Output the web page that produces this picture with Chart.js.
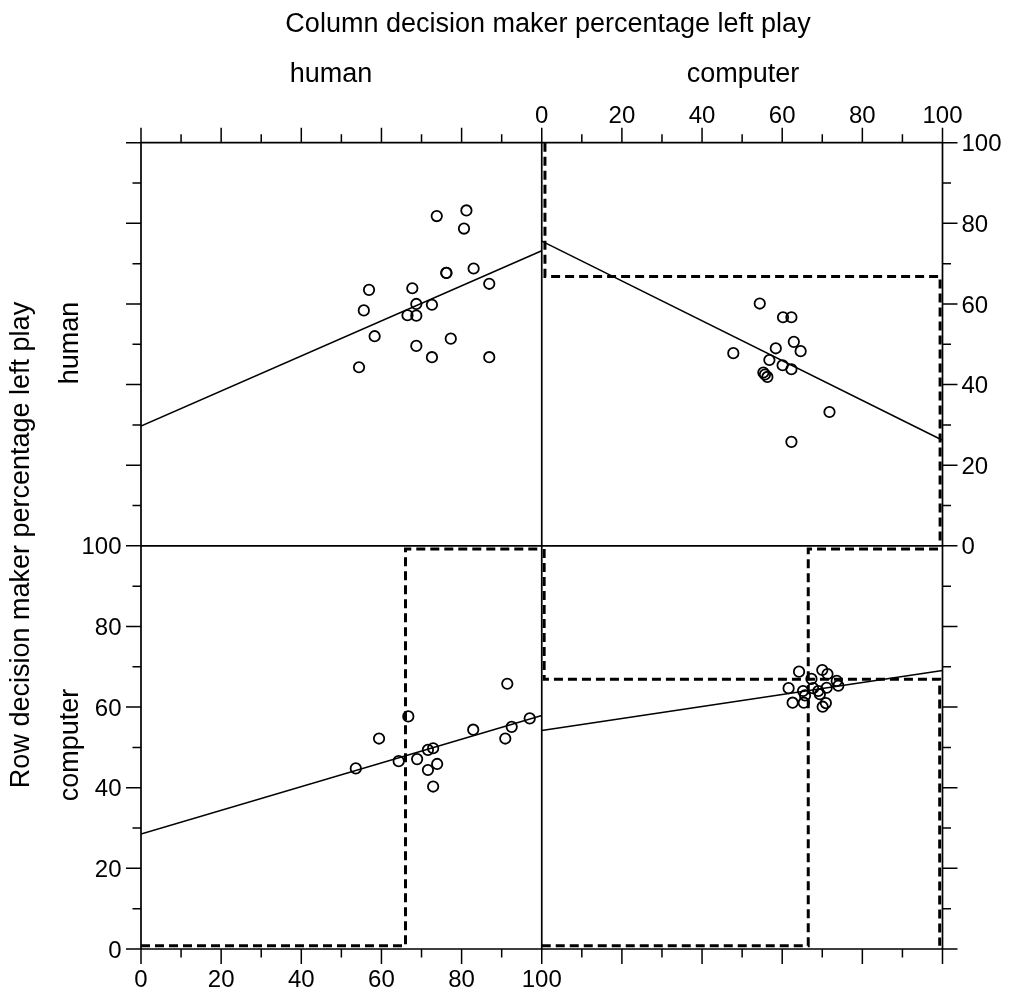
<!DOCTYPE html>
<html>
<head>
<meta charset="utf-8">
<script src="https://cdn.jsdelivr.net/npm/chart.js@4/dist/chart.umd.min.js"></script>
<style>
html,body{margin:0;padding:0;background:#fff;}
#wrap{width:1013px;height:998px;position:relative;}
</style>
</head>
<body>
<div id="wrap"><canvas id="c" width="1013" height="998"></canvas></div>
<script>
// ---- text ----
const colTitle = "Column decision maker percentage left play";
const rowTitle = "Row decision maker percentage left play";
const groupLabels = ["human", "computer"];
const tickLabels = ["0", "20", "40", "60", "80", "100"];

// ---- data (percentages) ----
// row human / column human (top-left)
const hhX = [73.8, 81.2, 80.6, 76.2, 76.2, 83.0, 86.9, 56.9, 67.7, 55.6, 68.7, 72.6, 66.5, 68.7, 58.3, 77.3, 68.7, 72.6, 86.9, 54.4];
const hhY = [81.8, 83.2, 78.7, 67.7, 67.7, 68.8, 65.0, 63.5, 63.9, 58.4, 60.0, 59.8, 57.2, 57.1, 52.0, 51.4, 49.6, 46.8, 46.8, 44.3];
// row human / column computer (top-right)
const hcX = [54.4, 60.2, 62.3, 62.9, 64.6, 58.4, 47.8, 56.8, 60.1, 62.3, 55.3, 55.7, 56.3, 71.8, 62.3];
const hcY = [60.1, 56.7, 56.7, 50.6, 48.3, 49.0, 47.8, 46.1, 44.8, 43.8, 43.0, 42.5, 41.9, 33.2, 25.8];
// row computer / column human (bottom-left)
const chX = [91.4, 66.7, 59.4, 82.9, 97.0, 92.5, 90.9, 53.6, 64.3, 68.9, 71.6, 72.9, 73.9, 71.6, 72.9];
const chY = [65.8, 57.7, 52.2, 54.4, 57.2, 55.1, 52.2, 44.8, 46.6, 47.1, 49.4, 49.8, 45.9, 44.4, 40.3];
// row computer / column computer (bottom-right)
const ccX = [64.2, 70.0, 71.3, 67.3, 73.6, 74.0, 61.6, 65.2, 67.7, 71.1, 69.0, 65.7, 69.4, 62.6, 65.4, 70.9, 70.1];
const ccY = [68.8, 69.2, 68.2, 67.0, 66.5, 65.3, 64.7, 64.0, 64.7, 64.8, 64.0, 62.9, 63.2, 61.1, 61.1, 61.0, 60.1];

// fitted lines: value at x=0 and x=100
const fitX = [0, 100];
const fitHH = [29.7, 73.2];
const fitHC = [75.6, 26.2];
const fitCH = [28.5, 57.9];
const fitCC = [54.2, 69.1];

// best-response (dashed) paths
const brHCx = [0.8, 0.8, 99.4, 99.4];
const brHCy = [100, 66.8, 66.8, 0];
const brCHx = [0, 66.0, 66.0, 100];
const brCHy = [0.8, 0.8, 99.2, 99.2];
const brCC1x = [0.6, 0.6, 99.3, 99.3];
const brCC1y = [99.2, 66.9, 66.9, 0.8];
const brCC2x = [0, 66.5, 66.5, 99.3];
const brCC2y = [0.8, 0.8, 99.2, 99.2];

// ---- build datasets (panel offsets: right column +100 on x, top row +100 on y) ----
function pts(xs, ys, dx, dy) { return xs.map((x, i) => ({ x: x + dx, y: ys[i] + dy })); }

function scatterDs(xs, ys, dx, dy) {
  return {
    type: 'scatter', data: pts(xs, ys, dx, dy),
    pointStyle: 'circle', pointRadius: 5.2, pointBorderWidth: 1.8,
    pointBorderColor: '#000', pointBackgroundColor: 'rgba(0,0,0,0)', showLine: false, order: 1
  };
}
function lineDs(xs, ys, dx, dy, dashed) {
  return {
    type: 'scatter', data: pts(xs, ys, dx, dy), showLine: true,
    borderColor: '#000', borderWidth: dashed ? 3 : 1.5, borderDash: dashed ? [9, 5] : [],
    pointRadius: 0, fill: false, tension: 0, order: 2
  };
}

const datasets = [
  lineDs(brHCx, brHCy, 100, 100, true),
  lineDs(brCHx, brCHy, 0, 0, true),
  lineDs(brCC1x, brCC1y, 100, 0, true),
  lineDs(brCC2x, brCC2y, 100, 0, true),
  lineDs(fitX, fitHH, 0, 100, false),
  lineDs(fitX, fitHC, 100, 100, false),
  lineDs(fitX, fitCH, 0, 0, false),
  lineDs(fitX, fitCC, 100, 0, false),
  scatterDs(hhX, hhY, 0, 100),
  scatterDs(hcX, hcY, 100, 100),
  scatterDs(chX, chY, 0, 0),
  scatterDs(ccX, ccY, 100, 0)
];

const FONT = '"Liberation Sans", Arial, Helvetica, sans-serif';

const framePlugin = {
  id: 'frame',
  beforeDatasetsDraw(chart) {
    const { ctx, chartArea: a, scales } = chart;
    const xs = scales.x, ys = scales.y;
    ctx.save();
    ctx.strokeStyle = '#000';
    ctx.lineWidth = 1.7;
    ctx.beginPath();
    [0, 100, 200].forEach(v => {
      const px = xs.getPixelForValue(v);
      ctx.moveTo(px, a.top); ctx.lineTo(px, a.bottom);
      const py = ys.getPixelForValue(v);
      ctx.moveTo(a.left, py); ctx.lineTo(a.right, py);
    });
    ctx.stroke();

    ctx.lineWidth = 1.5;
    ctx.beginPath();
    for (let v = 0; v <= 200; v += 10) {
      const L = v % 20 === 0 ? 15 : 8.5;
      const px = xs.getPixelForValue(v);
      ctx.moveTo(px, a.top); ctx.lineTo(px, a.top - L);
      ctx.moveTo(px, a.bottom); ctx.lineTo(px, a.bottom + L);
      const py = ys.getPixelForValue(v);
      ctx.moveTo(a.left, py); ctx.lineTo(a.left - L, py);
      ctx.moveTo(a.right, py); ctx.lineTo(a.right + L, py);
    }
    ctx.stroke();

    // tick labels
    const fs = 24;
    ctx.fillStyle = '#000';
    ctx.font = fs + 'px ' + FONT;
    tickLabels.forEach((lab, i) => {
      const v = i * 20;
      ctx.textAlign = 'center'; ctx.textBaseline = 'alphabetic';
      ctx.fillText(lab, xs.getPixelForValue(v + 100), a.top - 20);
      ctx.fillText(lab, xs.getPixelForValue(v), a.bottom + 38);
      ctx.textAlign = 'right';
      ctx.fillText(lab, a.left - 19.5, ys.getPixelForValue(v) + fs * 0.358);
      ctx.textAlign = 'left';
      ctx.fillText(lab, a.right + 19, ys.getPixelForValue(v + 100) + fs * 0.358);
    });

    // titles
    ctx.font = '27px ' + FONT;
    ctx.textAlign = 'center'; ctx.textBaseline = 'alphabetic';
    ctx.fillText(colTitle, 548, 32);
    ctx.fillText(groupLabels[0], 331, 82);
    ctx.fillText(groupLabels[1], 743, 82);

    const vt = (t, x, y) => { ctx.save(); ctx.translate(x, y); ctx.rotate(-Math.PI / 2); ctx.fillText(t, 0, 0); ctx.restore(); };
    vt(rowTitle, 29, 545);
    vt(groupLabels[0], 78, 343);
    vt(groupLabels[1], 78, 745);
    ctx.restore();
  }
};

new Chart(document.getElementById('c').getContext('2d'), {
  type: 'scatter',
  data: { datasets },
  options: {
    responsive: false,
    animation: false,
    devicePixelRatio: 1,
    layout: { padding: { left: 141, right: 70.5, top: 142.7, bottom: 49 } },
    plugins: { legend: { display: false }, tooltip: { enabled: false }, title: { display: false } },
    scales: {
      x: { type: 'linear', min: 0, max: 200, display: false },
      y: { type: 'linear', min: 0, max: 200, display: false }
    }
  },
  plugins: [framePlugin]
});
</script>
</body>
</html>
